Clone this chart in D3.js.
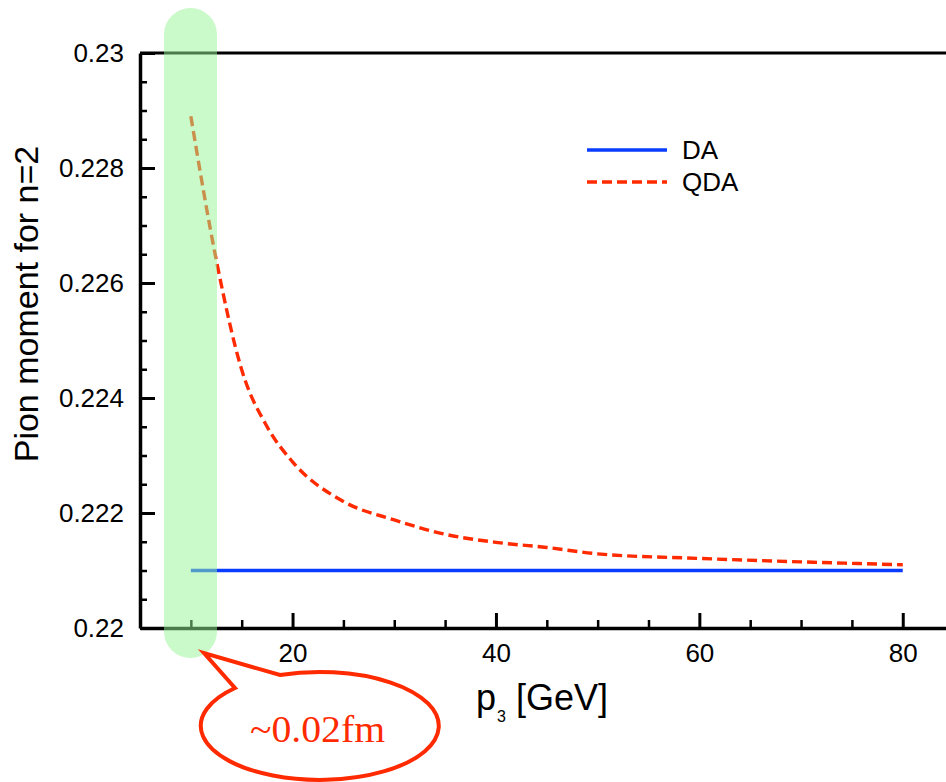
<!DOCTYPE html>
<html>
<head>
<meta charset="utf-8">
<script src="https://cdn.jsdelivr.net/npm/d3@7"></script>
<style>
  body { margin: 0; background: #fff; }
  svg { display: block; font-family: "Liberation Sans", Arial, sans-serif; }
</style>
</head>
<body>
<svg id="chart" width="946" height="782"></svg>
<script>
// values
const momenta = [10, 12.5, 15, 17.5, 20, 25, 30, 35, 40, 45, 50, 60, 70, 80];
const qdaValues = [0.22890, 0.22640, 0.22449, 0.22350, 0.22289, 0.22220, 0.22188, 0.22163,
                   0.22149, 0.22140, 0.22129, 0.22121, 0.22115, 0.22110];
const daValues = momenta.map(() => 0.221);
const yMajorTicks = [0.22, 0.222, 0.224, 0.226, 0.228, 0.23];
const yMinorTicks = d3.range(0, 21).map(i => 0.22 + i * 0.0005);
const xMajorTicks = [20, 40, 60, 80];
const xMinorTicks = [10, 15, 25, 30, 35, 45, 50, 55, 65, 70, 75, 85];
const legendItems = ["DA", "QDA"];

const svg = d3.select("#chart");
const plotLeft = 140, plotTop = 53, plotBottom = 628;

const x = d3.scaleLinear().domain([5, 85]).range([plotLeft, plotLeft + 80 * 10.17]);
const y = d3.scaleLinear().domain([0.22, 0.23]).range([plotBottom, plotTop]);

const red = "#ff2a00", blue = "#0a3cff";

// top frame line
svg.append("line")
    .attr("x1", plotLeft).attr("x2", 946)
    .attr("y1", plotTop).attr("y2", plotTop)
    .attr("stroke", "#000").attr("stroke-width", 3);

// minor ticks first (no labels)
svg.append("g")
    .attr("transform", `translate(${plotLeft},0)`)
    .call(d3.axisLeft(y).tickValues(yMinorTicks).tickSizeInner(-7).tickSizeOuter(0).tickFormat(""))
    .call(g => g.select(".domain").remove())
    .call(g => g.selectAll("line").attr("stroke-width", 2.5));
svg.append("g")
    .attr("transform", `translate(0,${plotBottom})`)
    .call(d3.axisBottom(x).tickValues(xMinorTicks).tickSizeInner(-8).tickSizeOuter(0).tickFormat(""))
    .call(g => g.select(".domain").remove())
    .call(g => g.selectAll("line").attr("stroke-width", 2.5));

// major axes
const yAxis = svg.append("g")
    .attr("transform", `translate(${plotLeft},0)`)
    .call(d3.axisLeft(y).tickValues(yMajorTicks).tickSizeInner(-15).tickSizeOuter(0).tickPadding(16)
        .tickFormat(d => String(+d.toFixed(3))));
yAxis.select(".domain").attr("stroke-width", 3.5);
yAxis.selectAll("line").attr("stroke-width", 3);
yAxis.selectAll("text").attr("font-size", 26).attr("fill", "#000")
    .attr("font-family", "Liberation Sans, Arial, sans-serif");

const xAxis = svg.append("g")
    .attr("transform", `translate(0,${plotBottom})`)
    .call(d3.axisBottom(x).tickValues(xMajorTicks).tickSizeInner(-15).tickSizeOuter(0).tickPadding(16));
xAxis.select(".domain").attr("stroke-width", 3.5);
xAxis.selectAll("line").attr("stroke-width", 3);
xAxis.selectAll("text").attr("font-size", 26).attr("fill", "#000")
    .attr("font-family", "Liberation Sans, Arial, sans-serif");

// curves
const line = d3.line().x(d => x(d[0])).y(d => y(d[1])).curve(d3.curveMonotoneX);
svg.append("path")
    .datum(momenta.map((p, i) => [p, daValues[i]]))
    .attr("d", line)
    .attr("fill", "none").attr("stroke", blue).attr("stroke-width", 3.4);
svg.append("path")
    .datum(momenta.map((p, i) => [p, qdaValues[i]]))
    .attr("d", line)
    .attr("fill", "none").attr("stroke", red).attr("stroke-width", 3.4)
    .attr("stroke-dasharray", "10,5");

// legend
const legend = svg.append("g");
legendItems.forEach((name, i) => {
    const ly = 150 + i * 32;
    legend.append("line")
        .attr("x1", 587).attr("x2", 667).attr("y1", ly).attr("y2", ly)
        .attr("stroke", i === 0 ? blue : red).attr("stroke-width", 3.4)
        .attr("stroke-dasharray", i === 0 ? null : "10,5");
    legend.append("text")
        .attr("x", 682).attr("y", ly + 9)
        .attr("font-size", 26).text(name);
});

// axis titles
svg.append("text")
    .attr("transform", "translate(38,304) rotate(-90)")
    .attr("text-anchor", "middle")
    .attr("font-size", 34)
    .text("Pion moment for n=2");

const xt = svg.append("text").attr("x", 476).attr("y", 710).attr("font-size", 36);
xt.append("tspan").text("p");
xt.append("tspan").attr("font-size", 16).attr("dy", 12).attr("dx", 1).text("3");
xt.append("tspan").attr("dy", -12).text(" [GeV]");

// green highlight band
svg.append("rect")
    .attr("x", 164).attr("y", 8)
    .attr("width", 53).attr("height", 650)
    .attr("rx", 26.5)
    .attr("fill", "rgb(150,245,150)").attr("opacity", 0.5);

// callout bubble
svg.append("path")
    .attr("d", "M280,675 A119,54 0 1 1 235,688 L204,653 Z")
    .attr("fill", "#fff").attr("stroke", red).attr("stroke-width", 4)
    .attr("stroke-linejoin", "miter");
svg.append("text")
    .attr("x", 250).attr("y", 742)
    .style("font-family", "'Liberation Serif', 'Times New Roman', serif")
    .attr("font-size", 37)
    .attr("textLength", 135).attr("lengthAdjust", "spacingAndGlyphs")
    .attr("fill", red)
    .text("~0.02fm");
</script>
</body>
</html>
